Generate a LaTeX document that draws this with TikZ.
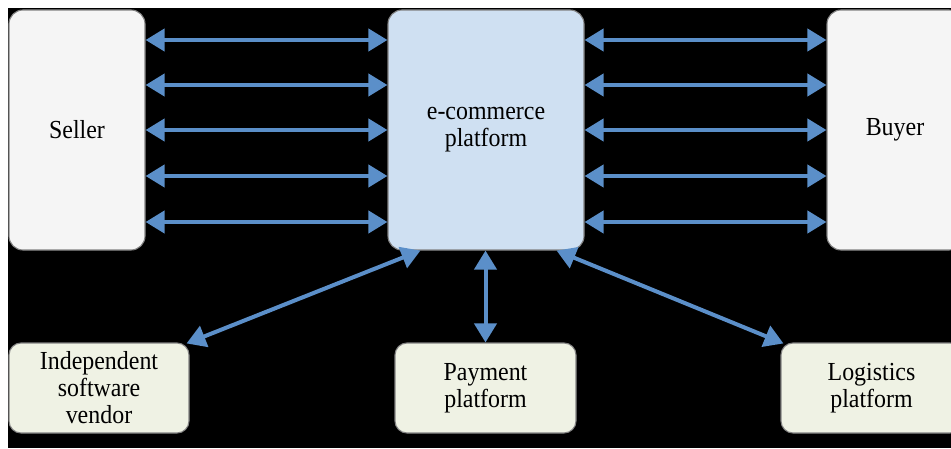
\documentclass[tikz,border=0pt]{standalone}
\usepackage{fontspec}
\setmainfont{Liberation Serif}[FakeStretch=0.92]
\usetikzlibrary{arrows.meta,calc}
\definecolor{arrblue}{RGB}{91,143,201}
\definecolor{ecomfill}{RGB}{207,224,242}
\definecolor{sidefill}{RGB}{245,245,245}
\definecolor{lowfill}{RGB}{239,242,228}
\definecolor{edgegray}{RGB}{130,130,130}
\tikzset{
  labelfont/.style={font=\fontsize{26}{27}\selectfont},
  topbox/.style={draw=edgegray, line width=1.1pt, rounded corners=14pt, minimum height=240pt, inner sep=0pt, align=center, labelfont},
  lowbox/.style={draw=edgegray, line width=1.1pt, fill=lowfill, rounded corners=12pt, minimum width=180pt, minimum height=90pt, inner sep=0pt, align=center, labelfont},
  arr/.style={draw=arrblue, line width=4pt, {Triangle[length=19pt,width=22pt]}-{Triangle[length=19pt,width=22pt]}}
}
\begin{document}
\begin{tikzpicture}[x=1pt,y=1pt]
\useasboundingbox (0,0) rectangle (951,448);
\clip (0,0) rectangle (951,448);
\fill[white] (0,0) rectangle (951,448);
\fill[black] (8,0) rectangle (951,440);
% top row
\node[topbox, fill=sidefill, minimum width=136pt] (seller) at (77,318) {Seller};
\node[topbox, fill=ecomfill, minimum width=196pt] (ecom) at (486,318) {e-commerce\\platform};
\node[topbox, fill=sidefill, minimum width=136pt] (buyer) at (895,318) {Buyer};
% bottom row
\node[lowbox] (isv) at (99,60) {Independent\\software\\vendor};
\node[lowbox, minimum width=181pt] (pay) at (485.5,60) {Payment\\platform};
\node[lowbox, minimum width=181pt] (log) at (871.5,60) {Logistics\\platform};
% horizontal arrows
\foreach \yy in {408,363,318,272,226}{
  \draw[arr] (seller.east |- 0,\yy) -- (ecom.west |- 0,\yy);
  \draw[arr] (ecom.east |- 0,\yy) -- (buyer.west |- 0,\yy);
}
% lower arrows
\draw[arr] ($(ecom.south west)+(33,0)$) -- ($(isv.north east)+(-3,-1)$);
\draw[arr] (ecom.south -| pay.north) -- (pay.north);
\draw[arr] ($(ecom.south east)+(-28,0)$) -- ($(log.north west)+(3,-1)$);
\end{tikzpicture}
\end{document}
